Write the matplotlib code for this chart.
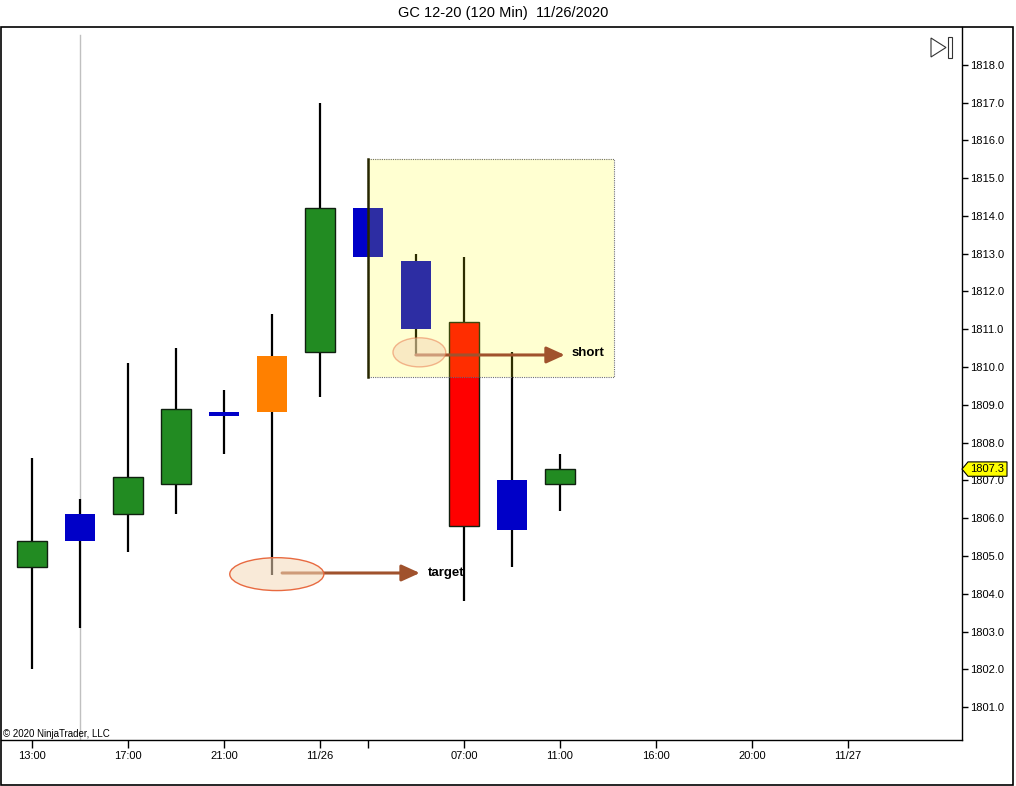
import numpy as np
import matplotlib.pyplot as plt
import matplotlib.transforms as mtransforms
from matplotlib.patches import Rectangle, Ellipse, Polygon

plt.rcParams['font.family'] = ['Liberation Sans', 'DejaVu Sans']

W, H = 1016, 786

# ---- bar data (120 min GC 12-20) ----
opens = [1804.7, 1805.4, 1806.1, 1806.9, 1808.7, 1808.8, 1810.4, 1814.2, 1812.8, 1811.2, 1805.7, 1806.9]
highs = [1807.6, 1806.5, 1810.1, 1810.5, 1809.4, 1811.4, 1817.0, 1814.2, 1813.0, 1812.9, 1810.4, 1807.7]
lows = [1802.0, 1803.1, 1805.1, 1806.1, 1807.7, 1804.5, 1809.2, 1812.9, 1810.3, 1803.8, 1804.7, 1806.2]
closes = [1805.4, 1806.1, 1807.1, 1808.9, 1808.8, 1810.3, 1814.2, 1812.9, 1811.0, 1805.8, 1807.0, 1807.3]
bar_colors = ['#228B22', '#0000C8', '#228B22', '#228B22', '#0000C8', '#FF8000',
              '#228B22', '#0000C8', '#0000C8', '#FF0000', '#0000C8', '#228B22']
outlined = [True, False, True, True, False, False, True, False, False, True, False, True]

tick_pos = [0, 2, 4, 6, 7, 9, 11, 13, 15, 17]
tick_labels = ['13:00', '17:00', '21:00', '11/26', '', '07:00', '11:00', '16:00', '20:00', '11/27']

last_price = 1807.3

# drawings: zone box, markers, arrows
zone_x = (7.0, 12.125)
zone_y = (1809.74, 1815.51)
target_mark = (5.10, 1804.52, 1.96, 0.87)
short_mark = (8.07, 1810.39, 1.10, 0.77)
target_arrow = ((5.21, 1804.55), (8.08, 1804.55))
short_arrow = ((8.0, 1810.32), (11.10, 1810.32))

# ---- figure ----
fig = plt.figure(figsize=(W / 100, H / 100), dpi=100)
ax = fig.add_axes([1 / W, 1 - 740 / H, 961 / W, (740 - 27) / H])

x = np.arange(len(opens))
o = np.array(opens)
c = np.array(closes)

ax.vlines(x, lows, highs, color='black', lw=1.6, zorder=2)
bars = ax.bar(x, np.abs(c - o), bottom=np.minimum(o, c), width=0.63,
              color=bar_colors, zorder=3)
for b, has_edge in zip(bars, outlined):
    if has_edge:
        b.set_edgecolor('#102010')
        b.set_linewidth(1)

# light vertical line
ax.axvline(1, ymin=0, ymax=0.989, color='#C0C0C0', lw=1, zorder=1)

# yellow zone
ax.add_patch(Rectangle((zone_x[0], zone_y[0]), zone_x[1] - zone_x[0], zone_y[1] - zone_y[0],
                       facecolor=(1, 1, 0), alpha=0.18, edgecolor='none', zorder=4))
ax.add_patch(Rectangle((zone_x[0], zone_y[0]), zone_x[1] - zone_x[0], zone_y[1] - zone_y[0],
                       fill=False, edgecolor='#707070', lw=0.8, ls=(0, (1, 1)), zorder=4))
ax.plot([zone_x[0], zone_x[0]], zone_y, color='#262600', lw=1.8, zorder=4.5)

# arrows
for (start, end) in [target_arrow, short_arrow]:
    ax.annotate('', xy=end, xytext=start,
                arrowprops=dict(arrowstyle='-|>,head_length=1.1,head_width=0.5',
                                color='#A0522D', lw=2.2, shrinkA=0, shrinkB=0),
                zorder=5)

# ellipses
cx, cy, ew, eh = target_mark
ax.add_patch(Ellipse((cx, cy), ew, eh, facecolor=(0.96, 0.85, 0.72, 0.55),
                     edgecolor='#E86A40', lw=1, zorder=6))
cx, cy, ew, eh = short_mark
ax.add_patch(Ellipse((cx, cy), ew, eh, facecolor=(0.96, 0.85, 0.72, 0.55),
                     edgecolor=(0.91, 0.45, 0.28, 0.5), lw=1, zorder=6))

ax.text(8.25, 1804.55, 'target', fontsize=9.5, fontweight='bold', va='center', ha='left', zorder=7)
ax.text(11.23, 1810.37, 'short', fontsize=9.5, fontweight='bold', va='center', ha='left', zorder=7)

# axes
ax.set_xlim(-0.646, 19.375)
ax.set_ylim(1800.13, 1819.0)
ax.yaxis.tick_right()
ax.set_yticks(np.arange(1801, 1819))
ax.yaxis.set_major_formatter(plt.FormatStrFormatter('%.1f'))
ax.set_xticks(tick_pos, tick_labels)
ax.tick_params(axis='y', labelsize=8, length=4, pad=1.5, width=1)
ax.tick_params(axis='x', labelsize=8, length=6, pad=2, width=1)
ax.spines['top'].set_visible(False)
ax.spines['left'].set_visible(False)
ax.spines['right'].set_linewidth(1)
ax.spines['bottom'].set_linewidth(1)

# last price marker
trans = mtransforms.blended_transform_factory(fig.transFigure, ax.transData)
hh = 0.19
marker = Polygon([(962 / W, last_price), (968 / W, last_price + hh), (1007 / W, last_price + hh),
                  (1007 / W, last_price - hh), (968 / W, last_price - hh)],
                 closed=True, facecolor='#FFFF00', edgecolor='black', lw=0.8,
                 transform=trans, clip_on=False, zorder=10)
ax.add_patch(marker)
ax.text(987.5 / W, last_price, f'{last_price:.1f}', transform=trans, fontsize=8,
        ha='center', va='center', clip_on=False, zorder=11)

# outer frame
fig.add_artist(Rectangle((1 / W, 1 - 785 / H), 1012 / W, (785 - 27) / H, fill=False,
                         edgecolor='black', lw=1.2, transform=fig.transFigure))

# play-to-end icon
fig.add_artist(Polygon([(931 / W, 1 - 38 / H), (946 / W, 1 - 47.5 / H), (931 / W, 1 - 57 / H)],
                       closed=True, fill=False, edgecolor='#333333', lw=0.8, transform=fig.transFigure))
fig.add_artist(Rectangle((948 / W, 1 - 58 / H), 4 / W, 21 / H, fill=False,
                         edgecolor='#333333', lw=0.8, transform=fig.transFigure))

fig.text(503 / W, 1 - 13 / H, 'GC 12-20 (120 Min)  11/26/2020', ha='center', va='center', fontsize=10.5)
fig.text(3 / W, 1 - 734 / H, '\u00a9 2020 NinjaTrader, LLC', ha='left', va='center', fontsize=7)

fig.savefig('out.png', dpi=100)
